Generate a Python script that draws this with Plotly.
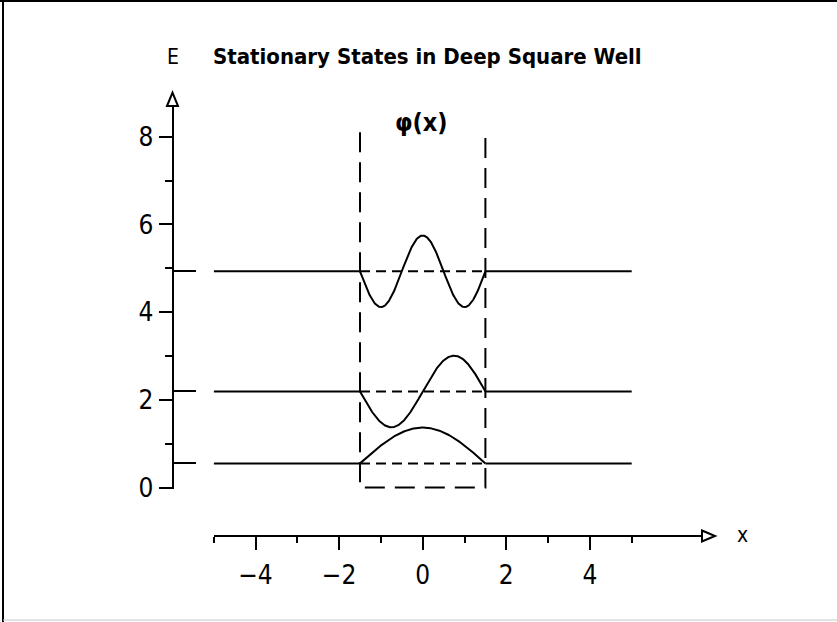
import numpy as np
import plotly.graph_objects as go

# ---- data ----
levels = [0.55, 2.19, 4.93]          # energy of each stationary state
quantum_numbers = [1, 2, 3]
phase_signs = [1, -1, -1]            # sign of each drawn wavefunction
amplitude = 0.816                    # sqrt(2 / well width)
well_edges = [-1.5, 1.5]
wall_top = 8.1
x_extent = [-5, 5]
x_major_ticks = [-4, -2, 0, 2, 4]
x_minor_ticks = [-5, -3, -1, 1, 3, 5]
y_major_ticks = [0, 2, 4, 6, 8]
y_minor_ticks = [1, 3, 5, 7]

W, H = 837, 622
def px(x):
    return x / W
def py(y):
    return 1 - y / H

FONT = "Liberation Sans Narrow, DejaVu Sans Condensed, Arial Narrow, sans-serif"
TITLE_FONT = "DejaVu Sans Condensed, Liberation Sans Narrow, sans-serif"
LW = 2

fig = go.Figure()

# energy levels: solid outside the well, dashed inside
for E in levels:
    fig.add_trace(go.Scatter(x=[x_extent[0], well_edges[0]], y=[E, E], mode="lines",
                             line=dict(color="black", width=LW), yaxis="y2", hoverinfo="skip"))
    fig.add_trace(go.Scatter(x=[well_edges[1], x_extent[1]], y=[E, E], mode="lines",
                             line=dict(color="black", width=LW), yaxis="y2", hoverinfo="skip"))
    fig.add_trace(go.Scatter(x=well_edges, y=[E, E], mode="lines",
                             line=dict(color="black", width=LW, dash="10px,6px"),
                             yaxis="y2", hoverinfo="skip"))

# well walls and floor
fig.add_trace(go.Scatter(
    x=[well_edges[0], well_edges[0], well_edges[1], well_edges[1]],
    y=[wall_top, 0, 0, wall_top], mode="lines",
    line=dict(color="black", width=LW, dash="20px,10px"), hoverinfo="skip"))

# wavefunctions drawn on top of their energy levels
a = (well_edges[1] - well_edges[0]) / 2
xs = np.linspace(well_edges[0], well_edges[1], 241)
for n, E, s in zip(quantum_numbers, levels, phase_signs):
    psi = s * amplitude * np.sin(n * np.pi * (xs - well_edges[0]) / (2 * a))
    fig.add_trace(go.Scatter(x=xs, y=E + psi, mode="lines",
                             line=dict(color="black", width=LW), hoverinfo="skip"))

x0_px, xscale = 422.7, 41.8
y0_px, yscale = 487.5, 43.85
x_arrow_base = 702
y_arrow_base = 106
x_axis_px = 536
y_axis_px = 172.5

x_lo = x_extent[0]
x_hi = (x_arrow_base - x0_px) / xscale
y_hi = (y0_px - y_arrow_base) / yscale
y_lo = -0.04
y_bottom_px = y0_px - y_lo * yscale

fig.update_layout(
    width=W, height=H, autosize=False,
    margin=dict(l=0, r=0, t=0, b=0, pad=0, autoexpand=False),
    paper_bgcolor="white", plot_bgcolor="rgba(0,0,0,0)",
    showlegend=False,
    xaxis=dict(
        domain=[px(x0_px + x_lo * xscale), px(x_arrow_base)],
        range=[x_lo, x_hi], anchor="free", position=py(x_axis_px), automargin=False,
        showgrid=False, zeroline=False, showline=True, linecolor="black", linewidth=LW,
        tickmode="array", tickvals=x_major_ticks,
        ticktext=["\u22124", "\u22122", "0", "2", "4"],
        ticks="outside", ticklen=13, tickwidth=LW, tickcolor="black",
        minor=dict(tickmode="array", tickvals=x_minor_ticks, ticks="outside",
                   ticklen=6, tickwidth=LW, tickcolor="black", showgrid=False),
        ticklabelstandoff=3,
        tickfont=dict(family=FONT, size=26, color="black"),
    ),
    yaxis=dict(
        domain=[py(y_bottom_px), py(y_arrow_base)],
        range=[y_lo, y_hi], anchor="free", position=px(y_axis_px), automargin=False,
        showgrid=False, zeroline=False, showline=True, linecolor="black", linewidth=LW,
        tickmode="array", tickvals=y_major_ticks,
        ticks="outside", ticklen=13, tickwidth=LW, tickcolor="black",
        minor=dict(tickmode="array", tickvals=y_minor_ticks, ticks="outside",
                   ticklen=7, tickwidth=LW, tickcolor="black", showgrid=False),
        tickfont=dict(family=FONT, size=26, color="black"),
    ),
    # marks on the energy axis at each level
    yaxis2=dict(
        overlaying="y", range=[y_lo, y_hi], anchor="free", position=px(y_axis_px),
        side="left", showgrid=False, zeroline=False, showline=False, automargin=False,
        tickmode="array", tickvals=levels, showticklabels=False,
        ticks="inside", ticklen=22, tickwidth=LW, tickcolor="black",
    ),
)

# open arrowheads on both axes
tip_y, half = 92.7, 5.5
fig.add_shape(type="path", xref="paper", yref="paper",
              path=f"M {px(y_axis_px - half)} {py(y_arrow_base)} L {px(y_axis_px)} {py(tip_y)} "
                   f"L {px(y_axis_px + half)} {py(y_arrow_base)} Z",
              line=dict(color="black", width=LW), fillcolor="white")
tip_x, halfx = 715, 5.5
fig.add_shape(type="path", xref="paper", yref="paper",
              path=f"M {px(x_arrow_base)} {py(x_axis_px - halfx)} L {px(tip_x)} {py(x_axis_px)} "
                   f"L {px(x_arrow_base)} {py(x_axis_px + halfx)} Z",
              line=dict(color="black", width=LW), fillcolor="white")

# frame
fig.add_shape(type="line", xref="paper", yref="paper", x0=px(3), x1=px(3), y0=0, y1=1,
              line=dict(color="black", width=2))
fig.add_shape(type="line", xref="paper", yref="paper", x0=0, x1=1, y0=py(1), y1=py(1),
              line=dict(color="black", width=2))
fig.add_shape(type="line", xref="paper", yref="paper", x0=px(3), x1=1, y0=py(620), y1=py(620),
              line=dict(color="#c8c8c8", width=1))

# text
def label(x, y, text, family, size):
    fig.add_annotation(x=px(x), y=py(y), xref="paper", yref="paper", showarrow=False,
                       xanchor="center", yanchor="middle", text=text,
                       font=dict(family=family, size=size, color="black"))

label(427, 57, "<b>Stationary States in Deep Square Well</b>", TITLE_FONT, 22)
label(173, 57, "E", FONT, 21)
label(421, 122, "<b>\u03c6(x)</b>", TITLE_FONT, 25)
label(742, 535, "x", FONT, 21)

fig.write_html("out.html")
